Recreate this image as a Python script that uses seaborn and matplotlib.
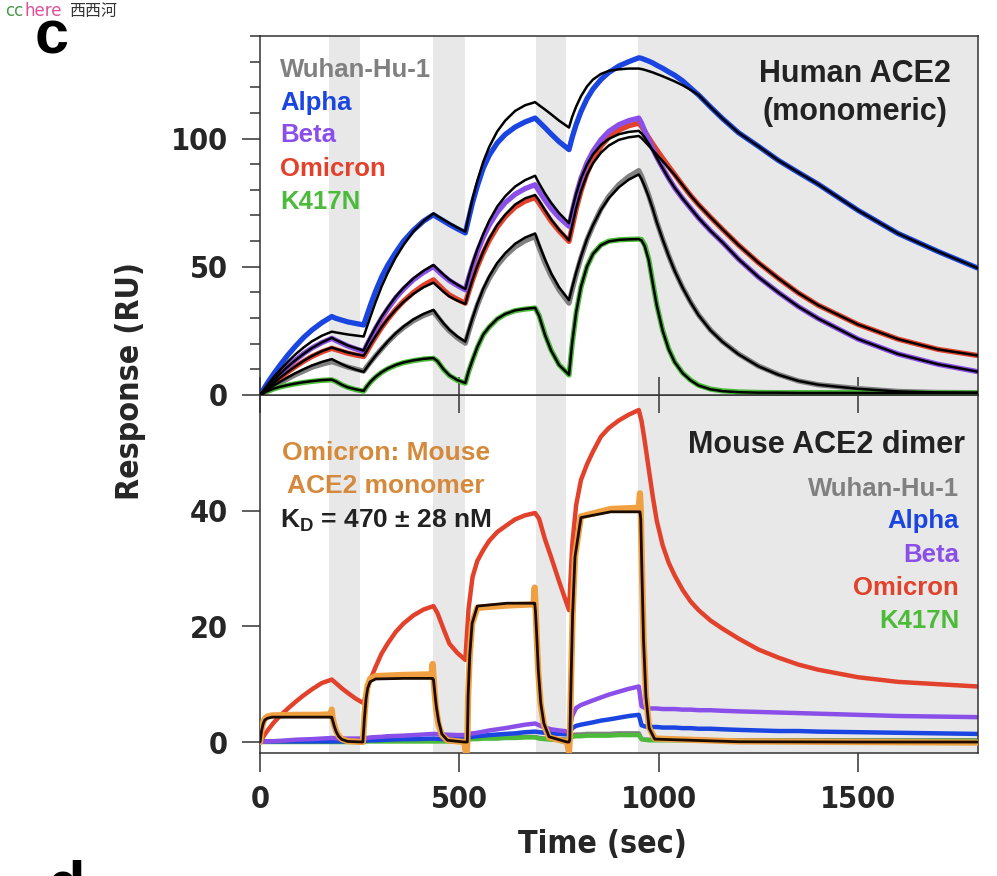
import matplotlib
matplotlib.use('Agg')
import matplotlib.pyplot as plt
import seaborn as sns
from matplotlib import font_manager
from matplotlib.ticker import MultipleLocator

# sample times (sec) shared by the human ACE2 curves and the mouse dimer curves
# (four association / dissociation cycles)
time = [0, 10, 20, 35, 50, 70, 90, 110, 130, 155, 180,
        190, 205, 220, 240, 260,
        268, 278, 290, 305, 320, 340, 360, 385, 410, 435,
        445, 460, 475, 495, 515,
        523, 533, 545, 560, 575, 595, 615, 640, 665, 690,
        700, 715, 730, 750, 775,
        783, 793, 805, 820, 835, 855, 875, 900, 925, 950,
        957, 965, 975, 985, 995, 1010, 1025, 1040, 1060, 1080, 1100,
        1130, 1160, 1200, 1250, 1300, 1350, 1400, 1500, 1600, 1700, 1800]

variants = ['Wuhan-Hu-1', 'Alpha', 'Beta', 'Omicron', 'K417N']
colors = ['#808080', '#1a45e0', '#8a4fe8', '#e2412b', '#4cbb3a']

# human ACE2 (monomeric): measured response and kinetic fit (RU)
wuhan_h = [0, 1.0, 2.0, 3.4, 4.7, 6.4, 8.0, 9.4, 10.8, 12.0, 13.0,
           12.5, 11.7, 10.9, 10.1, 9.3,
           11.0, 13.0, 15.3, 18.0, 20.6, 23.7, 26.3, 29.0, 31.0, 32.5,
           30.5, 27.5, 25.0, 22.3, 20.2,
           24.5, 29.5, 35.0, 40.8, 45.5, 50.5, 54.3, 57.8, 60.2, 61.8,
           57.5, 51.5, 46.5, 41.0, 35.8,
           41.0, 47.0, 53.5, 60.5, 66.0, 72.5, 77.5, 82.0, 85.2, 87.5,
           85.3, 82.0, 77.8, 72.9, 67.6, 60.7, 54.3, 48.5, 41.9, 36.2, 31.2,
           25.3, 20.8, 16.0, 11.3, 8.0, 5.5, 4.0, 2.5, 1.4, 1.0, 0.9]
wuhan_h_fit = [0, 1.1, 2.2, 3.7, 5.1, 6.9, 8.6, 10.1, 11.5, 12.9, 14.0,
               13.2, 12.0, 11.0, 9.9, 9.0,
               10.8, 12.9, 15.3, 18.1, 20.8, 24.0, 26.7, 29.5, 31.6, 33.2,
               31.0, 28.0, 25.4, 22.8, 20.8,
               25.0, 30.0, 35.5, 41.5, 46.3, 51.5, 55.3, 59.0, 61.4, 63.0,
               58.7, 52.8, 47.5, 42.0, 37.0,
               42.0, 47.8, 54.0, 60.8, 66.2, 72.2, 76.8, 81.0, 84.0, 86.0,
               84.2, 81.3, 77.2, 72.6, 67.4, 60.6, 54.2, 48.4, 41.8, 36.1, 31.1,
               25.2, 20.7, 15.9, 11.2, 7.9, 5.5, 4.0, 2.4, 1.4, 1.0, 0.9]
alpha_h = [0, 2.5, 5.0, 8.4, 11.6, 15.6, 19.2, 22.5, 25.3, 28.2, 30.6,
           29.9, 29.2, 28.5, 27.9, 27.3,
           31.0, 35.5, 40.5, 46.0, 50.5, 55.5, 60.0, 64.3, 67.8, 70.3,
           69.3, 67.9, 66.5, 64.8, 63.2,
           68.5, 75.0, 81.5, 88.5, 93.5, 98.3, 101.6, 104.5, 106.5, 108.0,
           106.5, 104.2, 101.8, 98.8, 95.7,
           100.5, 105.5, 110.5, 115.5, 119.3, 123.0, 125.8, 128.3, 130.0, 131.5,
           131.3, 130.8, 130.2, 129.5, 128.6, 127.4, 126.0, 124.7, 122.5, 119.7, 117.0,
           112.3, 107.8, 102.3, 97.0, 91.5, 86.8, 82.2, 72.0, 63.0, 56.0, 49.5]
alpha_h_fit = [0, 2.1, 4.2, 7.1, 9.7, 13.0, 16.0, 18.6, 20.9, 23.1, 24.7,
               24.4, 24.0, 23.6, 23.2, 22.8,
               26.5, 31.0, 36.3, 42.3, 47.5, 53.5, 58.5, 63.8, 67.8, 70.8,
               69.8, 68.4, 67.0, 65.3, 63.7,
               69.5, 76.5, 83.5, 91.0, 96.8, 102.8, 107.0, 110.8, 113.0, 114.2,
               113.0, 111.3, 109.5, 107.0, 104.3,
               108.5, 112.5, 116.5, 120.3, 123.0, 125.2, 126.4, 127.0, 127.3, 127.3,
               127.1, 126.8, 126.3, 125.8, 125.2, 124.3, 123.3, 122.3, 120.8, 119.0, 117.0,
               112.3, 107.8, 102.3, 97.0, 91.5, 86.8, 82.2, 72.0, 63.0, 56.0, 49.5]
beta_h = [0, 1.8, 3.6, 6.0, 8.3, 11.2, 13.8, 16.2, 18.3, 20.4, 22.1,
          21.3, 20.2, 19.1, 18.0, 17.0,
          19.5, 22.5, 26.0, 30.0, 33.5, 37.8, 41.3, 45.0, 47.8, 50.1,
          48.6, 46.5, 44.6, 42.7, 41.0,
          45.5, 50.5, 55.8, 61.5, 66.3, 71.3, 75.0, 78.3, 80.5, 82.0,
          79.5, 76.0, 72.8, 69.3, 65.8,
          71.5, 78.0, 84.5, 90.5, 95.0, 99.5, 102.8, 105.4, 107.0, 108.0,
          106.0, 103.0, 99.5, 96.0, 92.8, 88.5, 84.5, 80.8, 76.6, 72.8, 69.0,
          64.0, 59.5, 53.0, 46.0, 40.0, 34.5, 29.8, 21.8, 16.0, 12.0, 9.1]
beta_h_fit = [0, 1.7, 3.5, 5.9, 8.2, 11.1, 13.7, 16.1, 18.3, 20.5, 22.3,
              21.5, 20.4, 19.3, 18.3, 17.3,
              20.0, 23.0, 26.5, 30.5, 34.0, 38.3, 41.8, 45.5, 48.4, 50.7,
              49.2, 47.0, 45.0, 43.0, 41.3,
              46.0, 51.3, 56.8, 62.8, 68.0, 73.5, 77.5, 81.3, 83.8, 85.5,
              82.5, 78.5, 75.0, 71.0, 67.0,
              72.5, 78.5, 84.5, 89.8, 93.8, 97.5, 99.9, 101.7, 102.6, 103.0,
              102.0, 100.4, 98.0, 95.4, 92.5, 88.4, 84.4, 80.8, 76.6, 72.8, 69.0,
              64.0, 59.5, 53.0, 46.0, 40.0, 34.5, 29.8, 21.8, 16.0, 12.0, 9.1]
omicron_h = [0, 1.4, 2.8, 4.7, 6.6, 9.0, 11.2, 13.2, 15.0, 16.8, 18.2,
             17.7, 17.0, 16.3, 15.6, 15.0,
             17.0, 19.7, 22.7, 26.3, 29.5, 33.3, 36.6, 40.0, 42.8, 44.9,
             43.3, 41.0, 39.0, 37.3, 35.8,
             40.0, 44.8, 50.0, 55.5, 60.3, 65.5, 69.5, 73.3, 75.6, 77.0,
             74.8, 71.3, 67.8, 64.0, 59.9,
             65.5, 72.5, 79.5, 86.5, 91.8, 97.0, 100.5, 103.3, 105.0, 106.0,
             104.7, 102.8, 100.3, 97.9, 95.6, 92.3, 89.1, 86.0, 81.8, 77.8, 74.2,
             69.3, 64.6, 58.5, 51.6, 45.5, 39.8, 35.0, 27.5, 21.8, 17.8, 15.4]
omicron_h_fit = [0, 1.4, 2.8, 4.7, 6.7, 9.1, 11.3, 13.4, 15.2, 17.1, 18.5,
                 18.0, 17.3, 16.6, 15.9, 15.3,
                 17.3, 20.0, 23.0, 26.5, 29.6, 33.2, 36.3, 39.5, 42.0, 43.8,
                 42.4, 40.3, 38.4, 36.8, 35.5,
                 40.0, 45.0, 50.3, 56.0, 61.0, 66.3, 70.3, 74.3, 76.7, 78.0,
                 75.8, 72.0, 68.5, 64.5, 60.3,
                 66.0, 72.8, 79.5, 85.8, 90.3, 94.5, 97.3, 99.5, 100.5, 101.0,
                 100.2, 98.9, 97.2, 95.5, 93.8, 91.2, 88.5, 85.8, 81.8, 77.8, 74.2,
                 69.3, 64.6, 58.5, 51.6, 45.5, 39.8, 35.0, 27.5, 21.8, 17.8, 15.4]
k417n_h = [0, 0.8, 1.5, 2.4, 3.1, 3.8, 4.4, 4.9, 5.3, 5.7, 5.9,
           5.3, 4.0, 3.0, 2.1, 1.5,
           3.3, 5.2, 7.0, 8.8, 10.2, 11.6, 12.6, 13.4, 14.0, 14.3,
           13.2, 10.0, 7.6, 5.7, 4.6,
           9.0, 13.5, 18.5, 23.5, 26.5, 29.6, 31.5, 32.9, 33.5, 33.9,
           31.0, 23.5, 17.5, 11.8, 7.8,
           20.0, 32.0, 42.0, 50.0, 55.0, 58.5, 60.0, 60.5, 60.7, 60.8,
           60.6, 58.5, 53.0, 44.0, 35.2, 25.2, 18.0, 12.9, 8.6, 5.8, 3.8,
           2.3, 1.6, 1.2, 1.0, 0.9, 0.9, 0.9, 0.9, 0.8, 0.8, 0.8]
k417n_h_fit = [0, 0.8, 1.6, 2.5, 3.2, 3.9, 4.5, 5.0, 5.4, 5.8, 6.0,
               5.3, 4.0, 3.0, 2.2, 1.6,
               3.4, 5.3, 7.1, 8.9, 10.3, 11.7, 12.7, 13.5, 14.1, 14.4,
               13.2, 10.1, 7.7, 5.8, 4.7,
               9.2, 13.7, 18.7, 23.6, 26.6, 29.7, 31.6, 33.0, 33.6, 34.0,
               30.8, 23.3, 17.4, 11.7, 7.9,
               20.5, 32.3, 42.2, 50.1, 55.0, 58.4, 59.9, 60.5, 60.7, 60.8,
               60.3, 58.0, 52.5, 43.6, 35.0, 25.0, 17.8, 12.8, 8.5, 5.7, 3.7,
               2.2, 1.5, 1.1, 0.9, 0.9, 0.8, 0.8, 0.8, 0.8, 0.8, 0.8]

# mouse ACE2 dimer responses (RU)
wuhan_m = [0, 0.1, 0.1, 0.1, 0.1, 0.1, 0.1, 0.1, 0.1, 0.1, 0.1,
           0.1, 0.1, 0.1, 0.1, 0.1,
           0.2, 0.2, 0.2, 0.2, 0.2, 0.2, 0.2, 0.2, 0.2, 0.2,
           0.2, 0.2, 0.2, 0.2, 0.2,
           0.5, 0.6, 0.6, 0.7, 0.7, 0.7, 0.8, 0.8, 0.9, 0.9,
           0.7, 0.6, 0.5, 0.5, 0.4,
           1.2, 1.3, 1.3, 1.4, 1.4, 1.4, 1.4, 1.5, 1.5, 1.5,
           0.5, 0.4, 0.4, 0.4, 0.4, 0.4, 0.4, 0.4, 0.4, 0.4, 0.4,
           0.3, 0.3, 0.3, 0.3, 0.3, 0.3, 0.3, 0.3, 0.3, 0.3, 0.3]
alpha_m = [0, 0.1, 0.1, 0.1, 0.1, 0.1, 0.1, 0.1, 0.1, 0.1, 0.1,
           0.1, 0.1, 0.1, 0.1, 0.1,
           0.25, 0.3, 0.3, 0.35, 0.4, 0.45, 0.5, 0.5, 0.55, 0.6,
           0.55, 0.5, 0.5, 0.5, 0.5,
           0.8, 0.9, 1.0, 1.1, 1.2, 1.3, 1.4, 1.5, 1.7, 1.8,
           1.7, 1.6, 1.5, 1.4, 1.3,
           2.4, 2.8, 3.0, 3.2, 3.4, 3.7, 3.9, 4.2, 4.5, 4.7,
           2.9, 2.7, 2.6, 2.6, 2.6, 2.5, 2.5, 2.5, 2.4, 2.4, 2.3,
           2.3, 2.2, 2.1, 2.0, 1.9, 1.9, 1.8, 1.7, 1.6, 1.5, 1.4]
beta_m = [0, 0.05, 0.1, 0.15, 0.2, 0.3, 0.4, 0.45, 0.5, 0.6, 0.7,
          0.65, 0.6, 0.6, 0.6, 0.6,
          0.7, 0.8, 0.85, 0.9, 1.0, 1.05, 1.1, 1.2, 1.3, 1.4,
          1.35, 1.3, 1.25, 1.2, 1.2,
          1.4, 1.5, 1.6, 1.8, 2.0, 2.2, 2.4, 2.7, 3.0, 3.2,
          2.9, 2.5, 2.2, 2.0, 1.8,
          4.5, 5.9, 6.4, 6.8, 7.2, 7.7, 8.2, 8.7, 9.2, 9.6,
          6.2, 5.9, 5.8, 5.8, 5.8, 5.7, 5.7, 5.7, 5.6, 5.6, 5.5,
          5.5, 5.4, 5.3, 5.2, 5.1, 5.0, 4.9, 4.7, 4.5, 4.4, 4.3]
omicron_m = [0, 1.1, 2.1, 3.4, 4.5, 5.8, 7.0, 8.1, 9.1, 10.2, 10.8,
             10.2, 9.3, 8.5, 7.5, 6.7,
             8.8, 11.0, 13.0, 15.3, 17.0, 19.0, 20.5, 21.9, 22.9, 23.5,
             22.3, 19.6, 17.0, 15.4, 14.2,
             23.0, 28.5, 31.3, 33.2, 34.8, 36.3, 37.3, 38.5, 39.2, 39.6,
             38.6, 35.0, 32.0, 27.8, 22.8,
             34.0, 41.0, 45.3, 48.0, 50.2, 52.8, 54.3, 55.6, 56.6, 57.4,
             55.5, 52.0, 47.2, 42.5, 38.3, 34.0, 31.0, 28.8, 26.3, 24.3, 22.8,
             21.0, 19.6, 17.9, 16.0, 14.6, 13.4, 12.5, 11.2, 10.4, 10.0, 9.6]
k417n_m = [0, 0, 0, 0, 0, 0, 0, 0, 0, 0, 0,
           0, 0, 0, 0, 0,
           0.1, 0.1, 0.1, 0.1, 0.1, 0.1, 0.1, 0.1, 0.1, 0.1,
           0.1, 0.1, 0.1, 0.1, 0.1,
           0.4, 0.5, 0.5, 0.6, 0.6, 0.6, 0.7, 0.7, 0.8, 0.8,
           0.6, 0.5, 0.4, 0.35, 0.3,
           0.9, 1.0, 1.0, 1.1, 1.1, 1.1, 1.1, 1.2, 1.2, 1.2,
           0.5, 0.4, 0.3, 0.3, 0.3, 0.3, 0.3, 0.3, 0.3, 0.3, 0.3,
           0.3, 0.2, 0.2, 0.2, 0.2, 0.2, 0.2, 0.2, 0.2, 0.2, 0.2]

# Omicron on mouse ACE2 monomer (fast on/off), own sampling times
time_mono = [0, 4, 8, 12, 18, 30, 90, 150, 178, 180, 182, 186, 191, 197, 205, 220, 258,
             262, 266, 270, 276, 290, 360, 430, 433, 435, 438, 442, 448, 456, 470, 512,
             518, 520, 522, 526, 532, 545, 620, 686, 689, 691, 694, 698, 704, 712, 725, 770,
             775, 777, 780, 784, 790, 805, 880, 950, 953, 955, 958, 962, 968, 976, 990,
             1200, 1500, 1800]
mono = [0, 2.2, 3.4, 4.0, 4.4, 4.6, 4.7, 4.7, 4.8, 5.6, 4.2, 3.0, 1.9, 1.1, 0.5, 0.15, 0.0,
        4.5, 8.0, 9.8, 10.9, 11.4, 11.6, 11.7, 13.5, 11.5, 8.5, 5.5, 3.0, 1.2, 0.3, 0.0,
        -2.5, 0.0, 8, 15, 20.5, 23.2, 23.6, 23.8, 26.7, 23.5, 18, 12, 6.5, 3, 0.8, 0.0,
        -1.7, 0.5, 10, 22, 32, 39, 40.3, 40.5, 43, 40, 30, 18, 8, 2.5, 0.6,
        0.1, 0.0, -0.1]
mono_fit = [0, 2.0, 3.2, 3.8, 4.1, 4.3, 4.3, 4.3, 4.3, 4.3, 3.8, 2.8, 1.8, 1.0, 0.45, 0.1, 0.0,
            4.2, 7.5, 9.3, 10.4, 10.9, 11.0, 11.0, 11.0, 10.8, 8.8, 6.2, 3.6, 1.4, 0.3, 0.0,
            0, 0, 8, 15, 20.5, 23.5, 24.0, 24.0, 24.0, 22.5, 18.5, 12.5, 6.8, 3.2, 0.9, 0.0,
            0, 0.4, 10, 22, 32, 38.8, 39.8, 39.8, 39.8, 38.5, 29, 17.5, 7.8, 2.4, 0.5,
            0.05, 0.0, 0.0]

dissociation = [(172, 250), (435, 513), (691, 768), (949, 1800)]

sns.set_style('ticks')
plt.rcParams['font.family'] = ['Liberation Sans', 'DejaVu Sans']
plt.rcParams['font.weight'] = 'bold'
plt.rcParams['mathtext.fontset'] = 'custom'
plt.rcParams['mathtext.bf'] = 'Liberation Sans:bold'
plt.rcParams['mathtext.rm'] = 'Liberation Sans:bold'

installed = {f.name for f in font_manager.fontManager.ttflist}
if 'Liberation Sans Narrow' in installed:
    narrow = dict(family='Liberation Sans Narrow', weight='bold')
    num_size = 27
else:
    narrow = dict(family='DejaVu Sans', stretch='condensed', weight='bold')
    num_size = 22

W, H = 997, 876


def px(x, y):
    return x / W, 1 - y / H


fig = plt.figure(figsize=(W / 100, H / 100), dpi=100)
ax2 = fig.add_axes([0.2608, 0.1404, 0.7198, 0.4087])
ax1 = fig.add_axes([0.2608, 0.5491, 0.7198, 0.4098])
ax1.set_zorder(3)  # so the shared-edge ticks also show inside the lower panel

human = [(wuhan_h, wuhan_h_fit), (alpha_h, alpha_h_fit), (beta_h, beta_h_fit),
         (omicron_h, omicron_h_fit), (k417n_h, k417n_h_fit)]
mouse = [wuhan_m, alpha_m, beta_m, omicron_m, k417n_m]

for ax in (ax1, ax2):
    for a, b in dissociation:
        ax.axvspan(a, b, color='#e8e8e8', lw=0, zorder=0)

# top panel: data then black fits
for i in [0, 4, 3, 2, 1]:
    sns.lineplot(x=time, y=human[i][0], ax=ax1, color=colors[i], lw=3.8,
                 estimator=None, sort=False, legend=False, zorder=2)
for i in [0, 4, 3, 2, 1]:
    sns.lineplot(x=time, y=human[i][1], ax=ax1, color='black', lw=1.8,
                 estimator=None, sort=False, legend=False, zorder=3)

# bottom panel
for i in [0, 4, 1, 2, 3]:
    sns.lineplot(x=time, y=mouse[i], ax=ax2, color=colors[i], lw=3.2,
                 estimator=None, sort=False, legend=False, zorder=2)
sns.lineplot(x=time_mono, y=mono, ax=ax2, color='#f0a040', lw=4.5,
             estimator=None, sort=False, legend=False, zorder=3)
sns.lineplot(x=time_mono, y=mono_fit, ax=ax2, color='#1a0a00', lw=2.0,
             estimator=None, sort=False, legend=False, zorder=4)

ax1.set_xlim(0, 1800)
ax1.set_ylim(0, 140)
ax2.set_xlim(0, 1800)
ax2.set_ylim(-1.9, 60)

for ax in (ax1, ax2):
    for s in ax.spines.values():
        s.set_color('#333333')
        s.set_linewidth(1.1)
    ax.set_xlabel('')
    ax.set_ylabel('')
    ax.set_xticks([0, 500, 1000, 1500])
    ax.tick_params(axis='y', which='major', direction='out', length=13, width=1.1,
                   color='#333333', pad=10)
    ax.tick_params(axis='x', which='major', width=1.1, color='#333333')

ax1.yaxis.set_major_locator(MultipleLocator(50))
ax1.yaxis.set_minor_locator(MultipleLocator(10))
ax1.tick_params(axis='y', which='minor', direction='out', length=7, width=1.1, color='#333333')
ax1.tick_params(axis='x', direction='inout', length=26, labelbottom=False)
ax2.set_yticks([0, 20, 40])
ax2.tick_params(axis='x', direction='out', length=14, pad=9)

for ax in (ax1, ax2):
    for lab in ax.get_xticklabels() + ax.get_yticklabels():
        lab.set_fontproperties(font_manager.FontProperties(size=num_size, **narrow))

fig.text(*px(130, 381), 'Response (RU)', rotation=90, ha='center', va='center',
         fontsize=num_size + 1, **narrow)
fig.text(*px(602, 845), 'Time (sec)', ha='center', va='center',
         fontsize=num_size + 1, **narrow)

# labels inside the panels
lab_size = 18.5
for name, c, y in zip(variants, colors, [77, 110, 142, 176, 209]):
    fig.text(*px(280, y), name, color=c, fontsize=lab_size, ha='left', va='baseline')
for name, c, y in zip(variants, colors, [496, 528, 562, 595, 628]):
    fig.text(*px(959, y), name, color=c, fontsize=lab_size, ha='right', va='baseline')

fig.text(*px(855, 82), 'Human ACE2', color='#222222', fontsize=22, ha='center', va='baseline')
fig.text(*px(855, 120), '(monomeric)', color='#222222', fontsize=22, ha='center', va='baseline')
fig.text(*px(965, 453), 'Mouse ACE2 dimer', color='#222222', fontsize=22, ha='right', va='baseline')

fig.text(*px(386, 460), 'Omicron: Mouse', color='#d4893b', fontsize=19, ha='center', va='baseline')
fig.text(*px(386, 493), 'ACE2 monomer', color='#d4893b', fontsize=19, ha='center', va='baseline')
fig.text(*px(386, 527), r'K$_{\mathbf{D}}$ = 470 ± 28 nM', color='#222222', fontsize=19,
         ha='center', va='baseline')

fig.text(*px(35, 53), 'c', fontsize=44, ha='left', va='baseline', color='black')
fig.text(*px(47, 903), 'd', fontsize=44, ha='left', va='baseline', color='black')

fig.text(*px(5, 16), 'cc', color='#4a9a4a', fontsize=12, fontweight='normal',
         family=['DejaVu Sans'], va='baseline')
fig.text(*px(24, 16), 'here', color='#e0509a', fontsize=12, fontweight='normal',
         family=['DejaVu Sans'], va='baseline')
fig.text(*px(69, 16), '西西河', color='#333333', fontsize=11.5, fontweight='normal',
         family=['Noto Sans CJK SC', 'DejaVu Sans'], va='baseline')

fig.savefig('out.png', dpi=100)
